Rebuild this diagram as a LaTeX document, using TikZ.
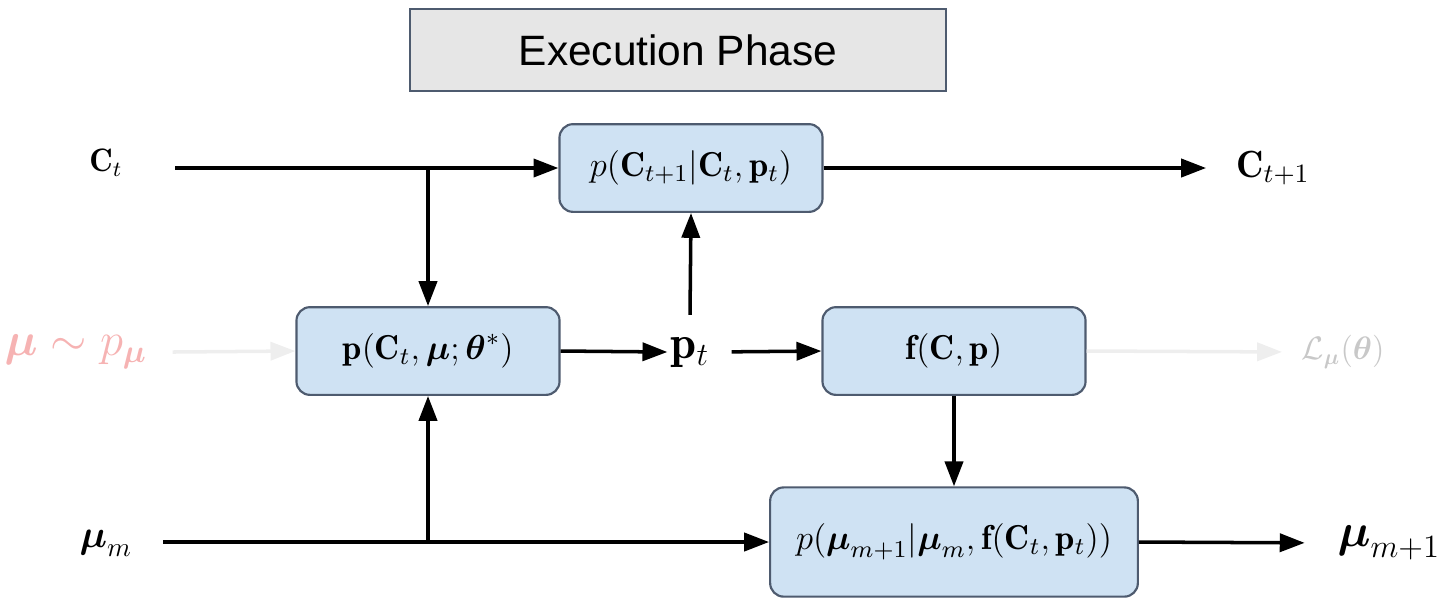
\RequirePackage{fix-cm}
\documentclass[tikz,border=0pt]{standalone}
\usepackage{amsmath,amssymb}
\usepackage{fontspec}
\newfontfamily\titlefont{Liberation Sans}
\usetikzlibrary{arrows.meta}
\definecolor{blkfill}{HTML}{CFE2F3}
\definecolor{blkline}{HTML}{4E5B6F}
\definecolor{titlefill}{HTML}{E6E6E6}
\definecolor{pinkish}{HTML}{F6B3B3}
\definecolor{ghostgray}{HTML}{EEEEEE}
\definecolor{lossgray}{HTML}{C8C8C8}
\begin{document}
\begin{tikzpicture}[x=0.013cm,y=-0.013cm,
  blk/.style={draw=blkline,fill=blkfill,rounded corners=5pt,line width=0.8pt,
    minimum width=3.42cm,minimum height=1.14cm,font=\fontsize{12.8}{15}\selectfont},
  lbl/.style={anchor=center,inner sep=1pt,font=\large},
  flow/.style={line width=1.3pt,-{Triangle[length=9.2pt,width=6.7pt]}},
  ghost/.style={flow,draw=ghostgray}]

  \useasboundingbox (0,0) rectangle (1445,599);

  \node[draw=blkline,fill=titlefill,line width=0.8pt,minimum width=6.97cm,
    minimum height=1.07cm,font=\titlefont\fontsize{15.7}{19}\selectfont] (phase) at (678,50) {Execution Phase};

  \node[blk] (trans) at (691,168) {$p(\mathbf{C}_{t+1}|\mathbf{C}_t,\mathbf{p}_t)$};
  \node[blk] (policy) at (428,351) {$\mathbf{p}(\mathbf{C}_t,\boldsymbol{\mu};\boldsymbol{\theta}^*)$};
  \node[blk] (feat) at (954,351) {$\mathbf{f}(\mathbf{C},\mathbf{p})$};
  \node[blk,minimum width=4.78cm,minimum height=1.42cm] (update) at (954,542)
    {$p(\boldsymbol{\mu}_{m+1}|\boldsymbol{\mu}_m,\mathbf{f}(\mathbf{C}_t,\mathbf{p}_t))$};

  \node[lbl] (ct) at (106,163) {$\mathbf{C}_t$};
  \node[lbl,font=\fontsize{14}{16}\selectfont] (ct1) at (1273,168) {$\mathbf{C}_{t+1}$};
  \node[lbl,font=\LARGE,minimum height=27pt] (pt) at (690,352) {$\mathbf{p}_t$};
  \node[lbl,font=\Large] (mum) at (106,543) {$\boldsymbol{\mu}_m$};
  \node[lbl,font=\LARGE] (mum1) at (1389,543) {$\boldsymbol{\mu}_{m+1}$};
  \node[lbl,font=\LARGE,text=pinkish] (prior) at (76,352) {$\boldsymbol{\mu}\sim p_{\boldsymbol{\mu}}$};
  \node[lbl,text=lossgray] (loss) at (1343,352) {$\mathcal{L}_{\boldsymbol{\mu}}(\boldsymbol{\theta})$};

  \coordinate (ctstart) at (175,168);
  \coordinate (ctfork) at (428,168);
  \coordinate (mustart) at (163,542);
  \coordinate (mufork) at (428,542);

  \draw[flow] (ctstart) -- (trans.west);
  \draw[flow] (ctfork) -- (policy.north);
  \draw[flow,shorten >=10pt] (trans.east) -- (ct1.west);
  \draw[ghost] (prior.east) ++(22,0) -- (policy.west);
  \draw[flow] (policy.east) -- (pt.west);
  \draw[flow] (pt.north) -- (trans.south);
  \draw[flow,shorten <=7pt] (pt.east) -- (feat.west);
  \draw[ghost,shorten >=6pt] (feat.east) -- (loss.west);
  \draw[flow] (feat.south) -- (update.north);
  \draw[flow] (mustart) -- (update.west);
  \draw[flow] (mufork) -- (policy.south);
  \draw[flow,shorten >=11pt] (update.east) -- (mum1.west);

\end{tikzpicture}
\end{document}
